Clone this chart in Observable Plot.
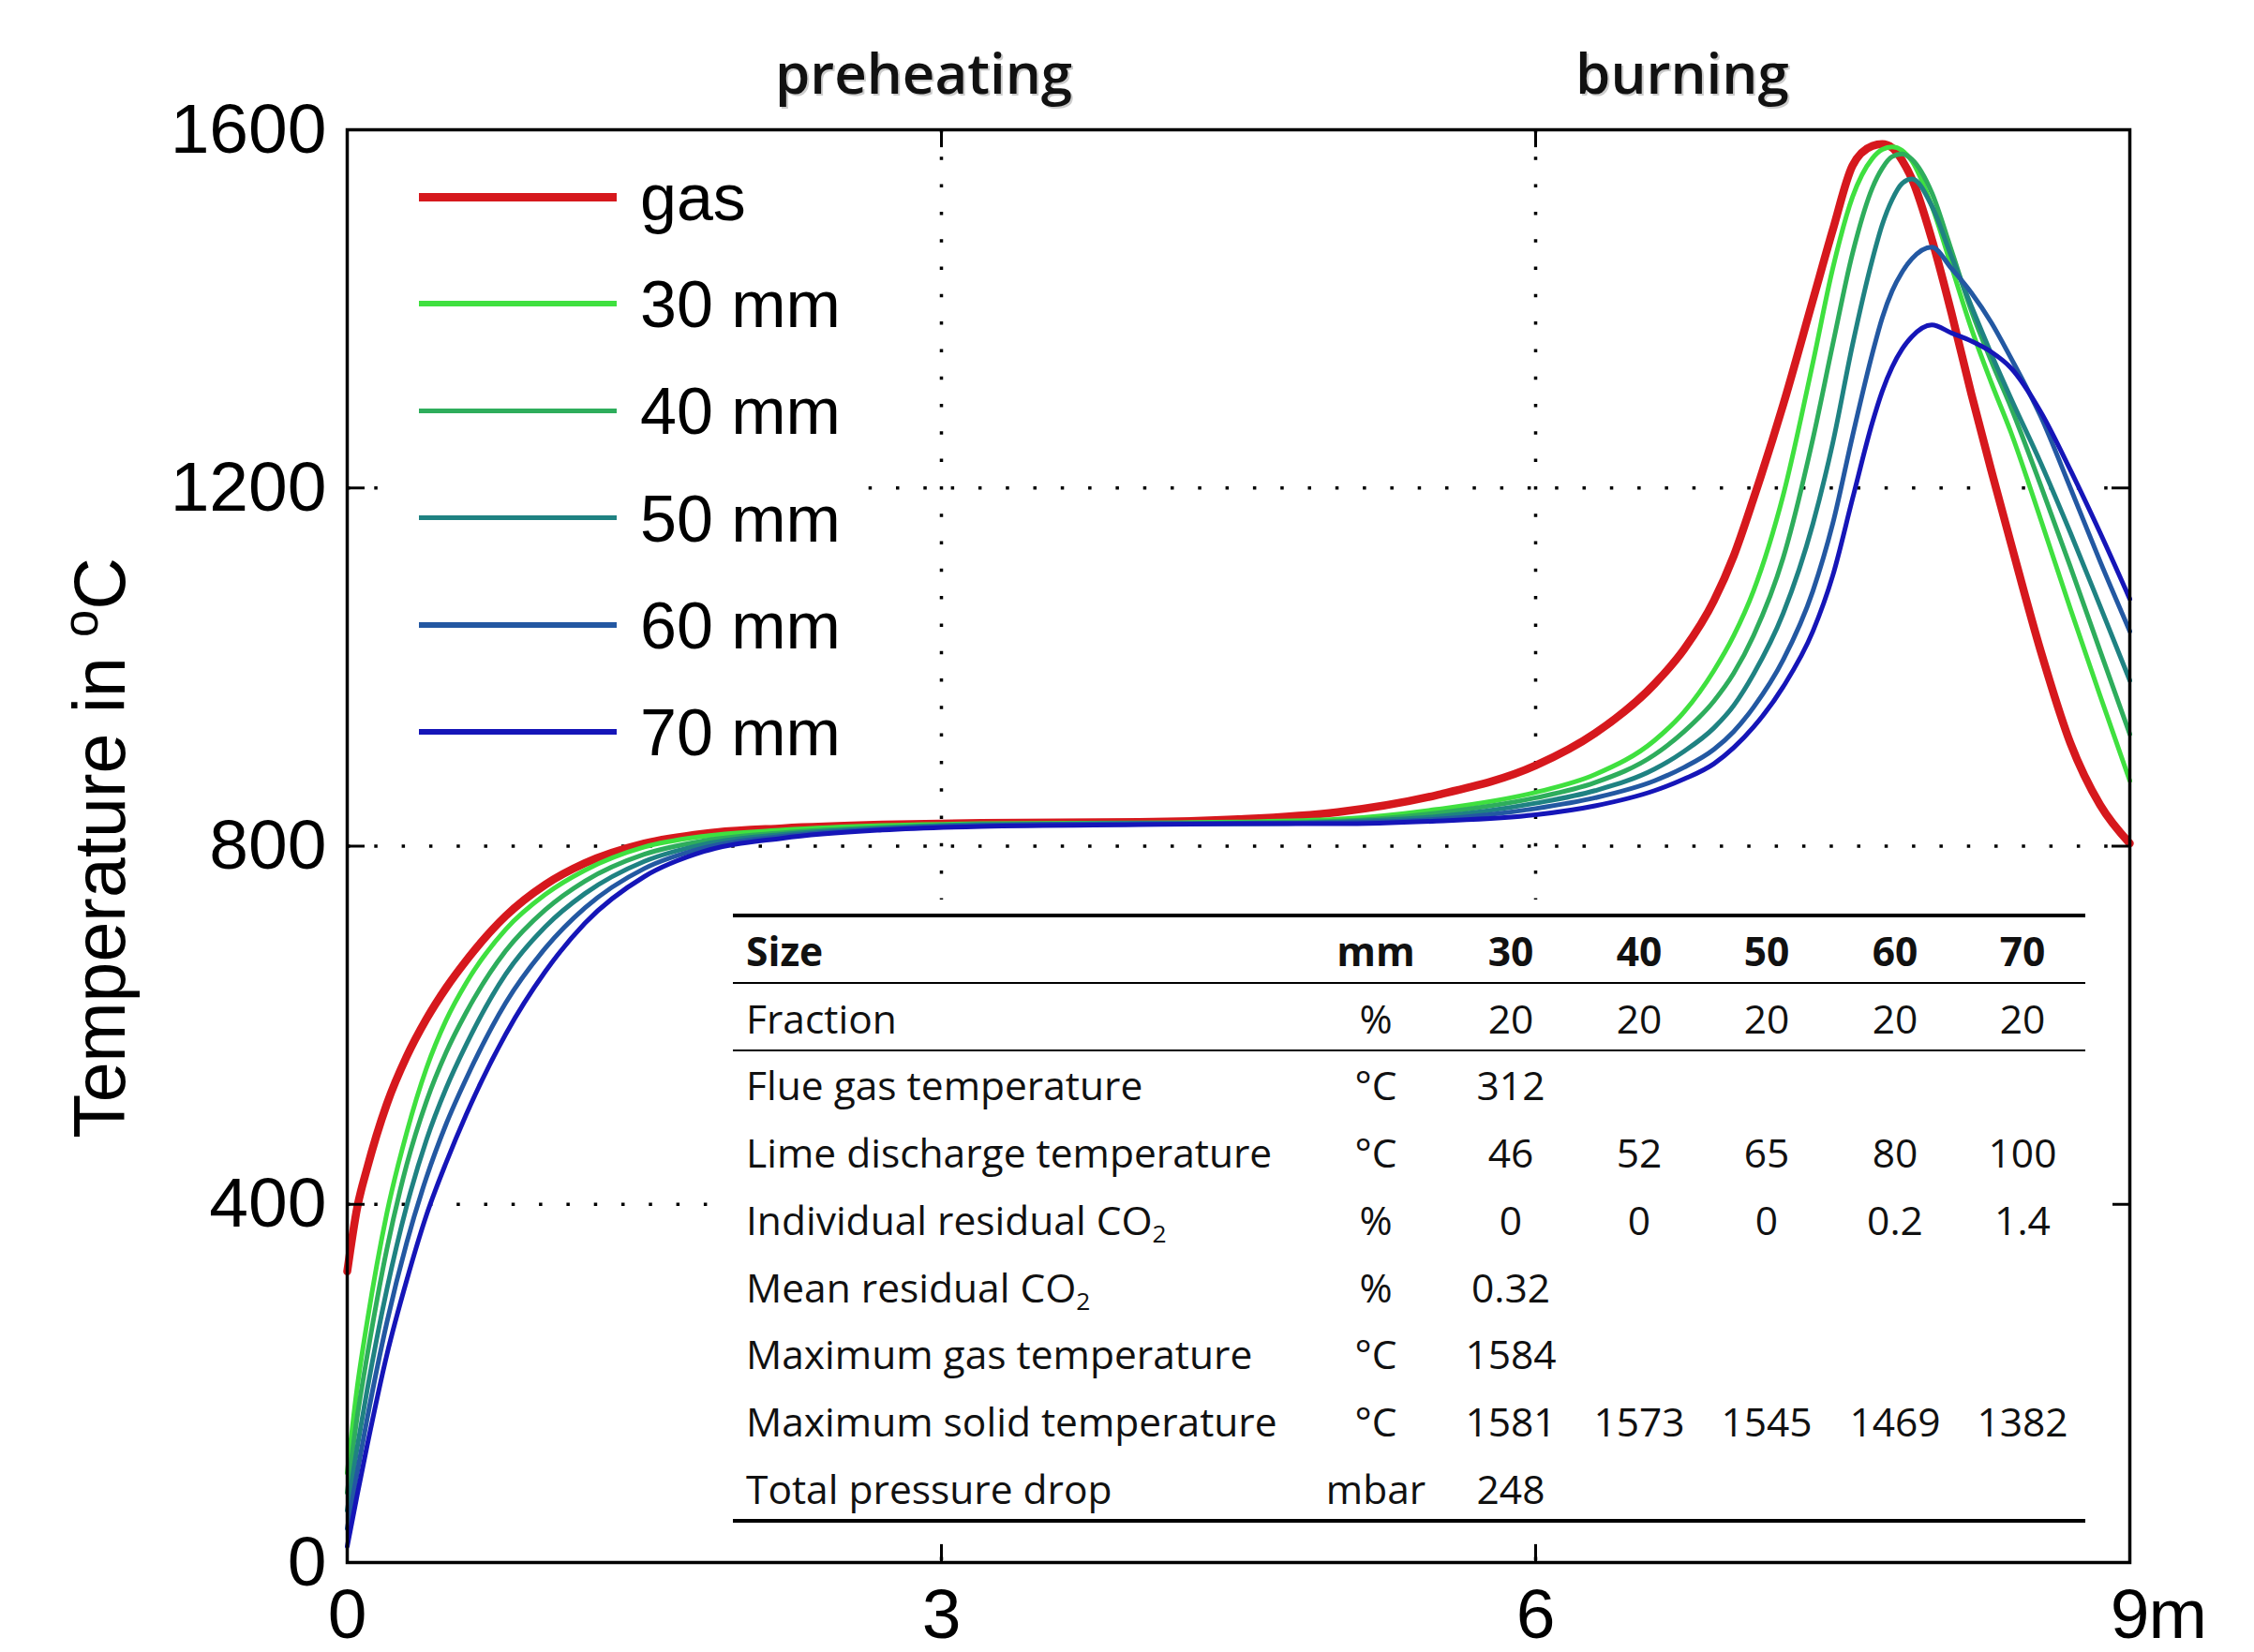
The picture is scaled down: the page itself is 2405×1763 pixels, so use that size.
<!DOCTYPE html>
<html>
<head>
<meta charset="utf-8">
<script src="https://cdn.jsdelivr.net/npm/d3@7"></script>
<script src="https://cdn.jsdelivr.net/npm/@observablehq/plot@0.6"></script>
<style>
  html, body { margin: 0; padding: 0; background: #fff; }
  #wrap { position: relative; width: 2405px; height: 1763px; overflow: hidden; background: #fff; }
  #wrap svg { position: absolute; left: 0; top: 0; }
  .ov { position: absolute; white-space: nowrap; color: #000; }
  .tcell { position: absolute; font-family: "Open Sans", sans-serif; font-size: 42.5px; line-height: 50px; color: #111; white-space: nowrap; }
  .tcell sub { font-size: 0.62em; line-height: 0; vertical-align: -0.3em; }
</style>
</head>
<body>
<div id="wrap"></div>
<script>
// ---- data ----
const xPos = [0, 0.05, 0.1, 0.2, 0.3, 0.4, 0.5, 0.6, 0.8, 1.0, 1.2, 1.5, 1.8, 2.2, 2.7, 3.2, 4.0, 4.5, 5.0, 5.5,
              6.0, 6.3, 6.6, 6.75, 6.9, 7.0, 7.1, 7.25, 7.4, 7.5, 7.6, 7.7, 7.75, 7.8, 7.85, 7.9, 8.0, 8.1, 8.2, 8.3,
              8.4, 8.55, 8.7, 8.85, 9.0];
const gas  = [325, 396, 440, 512, 565, 607, 642, 672, 722, 757, 781, 803, 814, 820, 824, 826, 827, 830, 838, 857,
              890, 926, 981, 1020, 1074, 1124, 1188, 1293, 1410, 1488, 1560, 1582, 1584, 1580, 1566, 1545, 1478, 1395, 1305, 1220,
              1138, 1018, 915, 846, 803];
const mm30 = [100, 195, 268, 390, 480, 552, 606, 647, 707, 746, 773, 799, 811, 818, 823, 825, 826, 827, 830, 841,
              860, 880, 918, 950, 996, 1035, 1085, 1192, 1340, 1445, 1525, 1568, 1578, 1581, 1577, 1565, 1515, 1447, 1378, 1318,
              1262, 1165, 1065, 968, 873];
const mm40 = [78, 162, 230, 350, 444, 515, 570, 614, 683, 729, 761, 791, 806, 815, 821, 824, 825, 826, 828, 837,
              854, 871, 902, 928, 962, 993, 1035, 1122, 1255, 1360, 1462, 1535, 1557, 1570, 1573, 1567, 1530, 1465, 1398, 1342,
              1290, 1203, 1112, 1018, 925];
const mm50 = [58, 128, 192, 305, 398, 472, 530, 578, 657, 710, 747, 783, 802, 813, 820, 824, 825, 825, 827, 833,
              848, 862, 886, 906, 932, 957, 992, 1060, 1160, 1250, 1360, 1455, 1494, 1522, 1540, 1545, 1515, 1458, 1403, 1350,
              1300, 1228, 1150, 1068, 985];
const mm60 = [38, 100, 160, 268, 357, 430, 490, 540, 625, 686, 731, 775, 798, 811, 819, 823, 825, 825, 826, 830,
              842, 854, 873, 888, 908, 928, 955, 1008, 1085, 1160, 1258, 1350, 1390, 1420, 1441, 1456, 1469, 1445, 1418, 1385,
              1345, 1280, 1200, 1118, 1040];
const mm70 = [18, 75, 130, 232, 315, 388, 447, 500, 590, 660, 714, 766, 794, 809, 818, 822, 824, 825, 825, 828,
              835, 845, 862, 875, 892, 910, 933, 978, 1040, 1102, 1188, 1273, 1308, 1335, 1355, 1369, 1382, 1373, 1364, 1352,
              1334, 1285, 1220, 1150, 1076];

const seriesNames  = ["gas", "30 mm", "40 mm", "50 mm", "60 mm", "70 mm"];
const seriesValues = [gas, mm30, mm40, mm50, mm60, mm70];
const seriesColors = ["#d6181d", "#3fe03f", "#2ead5c", "#1f8282", "#2358a2", "#1515b8"];
const seriesWidths = [8.5, 5, 5, 5, 5, 5];

const yTicks = [0, 400, 800, 1200, 1600];
const xTicks = [0, 3, 6, 9];
const xUnit = "m";
const gridY = [400, 800, 1200];
const gridX = [3, 6];
const phaseLabels = ["preheating", "burning"];
const phaseX = [2.91, 6.74];
const yTitle = "Temperature in ";

// table
const tableHeadLabel = "Size";
const tableHeadUnit = "mm";
const tableCols = ["30", "40", "50", "60", "70"];
const rowLabels = ["Fraction", "Flue gas temperature", "Lime discharge temperature", "Individual residual CO2",
                   "Mean residual CO2", "Maximum gas temperature", "Maximum solid temperature", "Total pressure drop"];
const rowUnits = ["%", "°C", "°C", "%", "%", "°C", "°C", "mbar"];
const rowValues = [["20", "20", "20", "20", "20"], ["312"], ["46", "52", "65", "80", "100"], ["0", "0", "0", "0.2", "1.4"],
                   ["0.32"], ["1584"], ["1581", "1573", "1545", "1469", "1382"], ["248"]];

// ---- chart ----
const wrap = document.getElementById("wrap");
const font = "'Liberation Sans', Arial, Helvetica, sans-serif";
const dotted = {stroke: "#000", strokeWidth: 3.5, strokeDasharray: "3.5 25.8"};
const tickStyle = {stroke: "#000", strokeWidth: 3};

const lineMarks = seriesNames.map((name, i) =>
  Plot.line(xPos.map((x, j) => ({x, T: seriesValues[i][j]})), {
    x: "x", y: "T", stroke: seriesColors[i], strokeWidth: seriesWidths[i],
    curve: "monotone-x", strokeLinejoin: "round", strokeLinecap: "round"
  })
);

const chart = Plot.plot({
  width: 2405, height: 1763,
  marginLeft: 370, marginRight: 133, marginTop: 138, marginBottom: 96,
  x: {domain: [0, 9], axis: null},
  y: {domain: [0, 1600], axis: null},
  style: {background: "white", overflow: "visible", fontFamily: font},
  marks: [
    Plot.ruleY(gridY, dotted),
    Plot.ruleX(gridX, dotted),
    ...lineMarks,
    Plot.frame({stroke: "#000", strokeWidth: 3.5}),
    Plot.ruleX(gridX, {y1: 0, y2: 20, ...tickStyle}),
    Plot.ruleX(gridX, {y1: 1580, y2: 1600, ...tickStyle}),
    Plot.ruleY(gridY, {x1: 0, x2: 0.09, ...tickStyle}),
    Plot.ruleY(gridY, {x1: 8.91, x2: 9, ...tickStyle}),
    Plot.text(yTicks, {x: 0, y: d => d, text: d => `${d}`, textAnchor: "end", dx: -22, fontSize: 75, fontFamily: font, fill: "#000"}),
    Plot.text(xTicks, {x: d => d, y: 0, text: d => `${d}`, dy: 56, fontSize: 75, fontFamily: font, fill: "#000"}),
    Plot.text([xUnit], {x: 9, y: 0, text: d => d, textAnchor: "start", dx: 20, dy: 56, fontSize: 75, fontFamily: font, fill: "#000"}),
    Plot.text(phaseLabels, {x: (d, i) => phaseX[i], y: 1600, text: d => d, dx: 2, dy: -56, fontSize: 60,
      fontFamily: "'Open Sans', sans-serif", fontWeight: 600, fill: "#999", fillOpacity: 0.5}),
    Plot.text(phaseLabels, {x: (d, i) => phaseX[i], y: 1600, text: d => d, dy: -58, fontSize: 60,
      fontFamily: "'Open Sans', sans-serif", fontWeight: 600, fill: "#111"})
  ]
});
wrap.appendChild(chart);

// ---- y axis title ----
const yt = document.createElement("div");
yt.className = "ov";
yt.style.cssText += `left:106px;top:905px;transform:translate(-50%,-50%) rotate(-90deg);font-family:${font};font-size:77px;line-height:90px;`;
yt.innerHTML = `${yTitle}<sup style="font-size:0.68em;vertical-align:0.55em;line-height:0">o</sup>C`;
wrap.appendChild(yt);

// ---- legend ----
const leg = document.createElement("div");
leg.className = "ov";
leg.style.cssText += "left:405px;top:160px;width:512px;height:680px;background:#fff;";
wrap.appendChild(leg);
seriesNames.forEach((name, i) => {
  const cy = 50 + i * 114.2; // relative to legend box
  const ln = document.createElement("div");
  const h = i === 0 ? 9 : 5.5;
  ln.style.cssText = `position:absolute;left:42px;width:211px;top:${cy - h / 2}px;height:${h}px;background:${seriesColors[i]};`;
  leg.appendChild(ln);
  const tx = document.createElement("div");
  tx.style.cssText = `position:absolute;left:278px;top:${cy - 41}px;height:84px;line-height:84px;font-family:${font};font-size:70px;color:#000;white-space:nowrap;`;
  tx.textContent = name;
  leg.appendChild(tx);
});

// ---- table ----
const tb = document.createElement("div");
tb.className = "ov";
const TL = 770, TT = 960;
tb.style.cssText += `left:${TL}px;top:${TT}px;width:1484px;height:676px;background:#fff;`;
wrap.appendChild(tb);
const ruleL = 782 - TL, ruleW = 2225 - 782;
function rule(yc, th) {
  const r = document.createElement("div");
  r.style.cssText = `position:absolute;left:${ruleL}px;width:${ruleW}px;top:${yc - TT - th / 2}px;height:${th}px;background:#000;`;
  tb.appendChild(r);
}
const labelX = 796, unitX = 1468, colX = [1612, 1749, 1885, 2022, 2158];
function cell(txt, yc, xc, align, bold) {
  const c = document.createElement("div");
  c.className = "tcell";
  const top = yc - TT - 25;
  if (align === "left") {
    c.style.cssText = `left:${xc - TL}px;top:${top}px;`;
  } else {
    c.style.cssText = `left:${xc - TL - 100}px;width:200px;text-align:center;top:${top}px;`;
  }
  if (bold) c.style.fontWeight = "700";
  c.innerHTML = txt.replace("CO2", "CO<sub>2</sub>");
  tb.appendChild(c);
}
rule(977, 4);
const headY = 1015;
cell(tableHeadLabel, headY, labelX, "left", true);
cell(tableHeadUnit, headY, unitX, "center", true);
tableCols.forEach((c, j) => cell(c, headY, colX[j], "center", true));
rule(1049, 2.5);
const rowY = [1087, 1158, 1230, 1302, 1374, 1445, 1517, 1589];
rowLabels.forEach((lab, i) => {
  cell(lab, rowY[i], labelX, "left", false);
  cell(rowUnits[i], rowY[i], unitX, "center", false);
  rowValues[i].forEach((v, j) => cell(v, rowY[i], colX[j], "center", false));
});
rule(1121, 2.5);
rule(1623, 4);
</script>
</body>
</html>
